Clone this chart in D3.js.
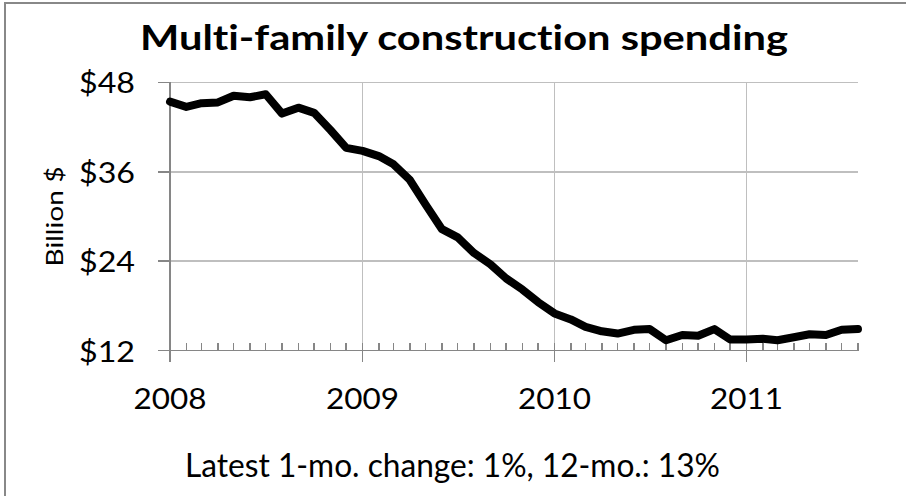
<!DOCTYPE html>
<meta charset="utf-8">
<style>

body {
  margin: 0;
  background: #fff;
}

svg text {
  font-family: Lato, "Open Sans", sans-serif;
  font-variant-ligatures: none;
  font-feature-settings: "liga" 0, "dlig" 0;
  fill: #000;
}

.grid line {
  stroke: #bfbfbf;
  stroke-width: 1.5px;
  shape-rendering: crispEdges;
}

.axis line {
  stroke: #868686;
  stroke-width: 1.5px;
  shape-rendering: crispEdges;
}

.line {
  fill: none;
  stroke: #000;
  stroke-width: 8px;
  stroke-linejoin: round;
  stroke-linecap: round;
}

</style>
<body>

<script src="https://cdnjs.cloudflare.com/ajax/libs/d3/7.8.5/d3.min.js"></script>
<script>

// chart text
var title = "Multi-family construction spending";
var yTitle = "Billion $";
var footnote = "Latest 1-mo. change: 1%, 12-mo.: 13%";

// monthly values, Jan 2008 .. Aug 2011 (billion $, annual rate)
var startMonth = "2008-01";
var spending = [
  45.4, 44.7, 45.2, 45.3, 46.2, 46.0, 46.4, 43.8, 44.6, 43.9, 41.6, 39.2,
  38.8, 38.1, 37.0, 34.9, 31.6, 28.3, 27.2, 25.1, 23.6, 21.7, 20.2, 18.5,
  17.0, 16.2, 15.2, 14.6, 14.3, 14.8, 14.9, 13.4, 14.1, 14.0, 14.9, 13.5,
  13.5, 13.6, 13.4, 13.8, 14.2, 14.1, 14.8, 14.9
];

// axis ticks
var yTicks = [12, 24, 36, 48];
var yearTicks = ["2008", "2009", "2010", "2011"];

// build the dates from the start month
var parseMonth = d3.timeParse("%Y-%m");
var parseYear = d3.timeParse("%Y");
var data = spending.map(function(v, i) {
  return {date: d3.timeMonth.offset(parseMonth(startMonth), i), value: v};
});
var years = yearTicks.map(parseYear);

var width = 906, height = 496;

// plot area
var plot = {left: 170, right: 858, top: 82.3, bottom: 350.7};

var x = d3.scaleTime()
    .domain(d3.extent(data, function(d) { return d.date; }))
    .range([plot.left, plot.right]);

var y = d3.scaleLinear()
    .domain([d3.min(yTicks), d3.max(yTicks)])
    .range([plot.bottom, plot.top]);

var svg = d3.select("body").append("svg")
    .attr("width", width)
    .attr("height", height);

// chart border
svg.append("rect")
    .attr("x", 5)
    .attr("y", 3)
    .attr("width", 940)
    .attr("height", 540)
    .attr("fill", "#fff")
    .attr("stroke", "#888")
    .attr("stroke-width", 2);

// horizontal gridlines
svg.append("g")
    .attr("class", "grid")
  .selectAll("line")
    .data(yTicks.slice(1))
  .enter().append("line")
    .attr("x1", plot.left)
    .attr("x2", plot.right)
    .attr("y1", function(d) { return y(d); })
    .attr("y2", function(d) { return y(d); });

// vertical gridlines
svg.append("g")
    .attr("class", "grid")
  .selectAll("line")
    .data(years.slice(1))
  .enter().append("line")
    .attr("x1", function(d) { return x(d); })
    .attr("x2", function(d) { return x(d); })
    .attr("y1", plot.top)
    .attr("y2", plot.bottom);

// Y axis: line, ticks, labels
var yAxis = svg.append("g").attr("class", "axis");
yAxis.append("line")
    .attr("x1", plot.left).attr("x2", plot.left)
    .attr("y1", plot.top).attr("y2", plot.bottom + 11);
yAxis.selectAll(".tick")
    .data(yTicks)
  .enter().append("line")
    .attr("x1", plot.left - 12)
    .attr("x2", plot.left)
    .attr("y1", function(d) { return y(d); })
    .attr("y2", function(d) { return y(d); });
svg.append("g")
  .selectAll("text")
    .data(yTicks)
  .enter().append("text")
    .attr("x", 135)
    .attr("y", function(d) { return y(d) + 11; })
    .attr("text-anchor", "end")
    .attr("textLength", 56)
    .attr("lengthAdjust", "spacingAndGlyphs")
    .style("font-size", "28px")
    .text(function(d) { return "$" + d; });

// X axis: line, month ticks, year ticks, labels
var xAxis = svg.append("g").attr("class", "axis");
xAxis.append("line")
    .attr("x1", plot.left - 12).attr("x2", plot.right)
    .attr("y1", plot.bottom).attr("y2", plot.bottom);
xAxis.selectAll(".minor")
    .data(data)
  .enter().append("line")
    .attr("x1", function(d) { return x(d.date); })
    .attr("x2", function(d) { return x(d.date); })
    .attr("y1", plot.bottom - 8)
    .attr("y2", plot.bottom);
xAxis.selectAll(".major")
    .data(years)
  .enter().append("line")
    .attr("x1", function(d) { return x(d); })
    .attr("x2", function(d) { return x(d); })
    .attr("y1", plot.bottom)
    .attr("y2", plot.bottom + 11);
svg.append("g")
  .selectAll("text")
    .data(years)
  .enter().append("text")
    .attr("x", function(d) { return x(d); })
    .attr("y", 409)
    .attr("text-anchor", "middle")
    .attr("textLength", 73)
    .attr("lengthAdjust", "spacingAndGlyphs")
    .style("font-size", "29px")
    .text(d3.timeFormat("%Y"));

// the spending line
var valueline = d3.line()
    .x(function(d) { return x(d.date); })
    .y(function(d) { return y(d.value); });

svg.append("path")
    .data([data])
    .attr("class", "line")
    .attr("d", valueline);

// title
svg.append("text")
    .attr("x", 464)
    .attr("y", 50)
    .attr("text-anchor", "middle")
    .attr("textLength", 648)
    .attr("lengthAdjust", "spacingAndGlyphs")
    .style("font-size", "35px")
    .style("font-weight", "bold")
    .text(title);

// y axis title
svg.append("text")
    .attr("transform", "translate(63," + ((plot.top + plot.bottom) / 2) + ") rotate(-90)")
    .attr("text-anchor", "middle")
    .attr("textLength", 100)
    .attr("lengthAdjust", "spacingAndGlyphs")
    .style("font-size", "23px")
    .text(yTitle);

// footnote
svg.append("text")
    .attr("x", 452.5)
    .attr("y", 477)
    .attr("text-anchor", "middle")
    .attr("textLength", 535)
    .attr("lengthAdjust", "spacingAndGlyphs")
    .style("font-size", "33px")
    .text(footnote);

</script>
</body>
